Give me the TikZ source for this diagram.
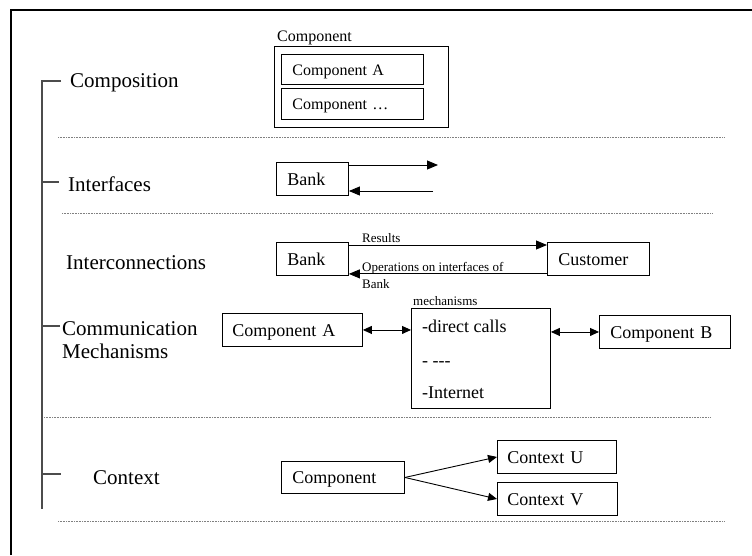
\documentclass[tikz,border=0pt]{standalone}
\usepackage{fontspec}
\setmainfont{Liberation Serif}
\usetikzlibrary{arrows.meta,calc}
\begin{document}
\begin{tikzpicture}[x=1pt,y=-1pt,
  box/.style={draw, line width=0.9pt, anchor=north west, align=left, inner ysep=0pt,
              text height=13pt, text depth=0pt, font=\fontsize{18}{21}\selectfont},
  heading/.style={anchor=base west, inner sep=0pt, font=\fontsize{21}{24}\selectfont},
  boxtext/.style={anchor=base west, inner sep=0pt, font=\fontsize{18}{21}\selectfont},
  small/.style={anchor=base west, inner sep=0pt, font=\fontsize{13}{15}\selectfont},
  bracket/.style={draw=black!70, line width=1.1pt},
  sep/.style={draw=black!50, line width=0.8pt, dash pattern=on 0.8pt off 0.8pt},
  arr/.style={line width=0.9pt, -{Triangle[length=11pt,width=9pt]}},
  darr/.style={line width=0.9pt, {Triangle[length=9pt,width=8pt]}-{Triangle[length=9pt,width=8pt]}},
  carr/.style={line width=0.9pt, -{Triangle[length=9pt,width=8pt]}},
]
\useasboundingbox (0,0) rectangle (752,555);

% page frame
\draw[line width=2.8pt] (11,555) -- (11,10) -- (752,10);

% bracket on the left with its ticks
\draw[bracket] (61,81) -- (42,81) -- (42,509);
\draw[bracket] (42,182) -- (59,182);
\draw[bracket] (42,326) -- (60,326);
\draw[bracket] (42,474) -- (61,474);

% section headings
\node[heading] (hComp) at (70,87) {Composition};
\node[heading] (hIntf) at (68,191) {Interfaces};
\node[heading] (hConn) at (66,269) {Interconnections};
\node[heading] (hMech1) at (62,335) {Communication};
\node[heading] (hMech2) at (62,358) {Mechanisms};
\node[heading] (hCtx) at (93,484) {Context};

% separators
\draw[sep] (58,137) -- (725,137);
\draw[sep] (62,213) -- (712,213);
\draw[sep] (44,417) -- (711,417);
\draw[sep] (58,521) -- (724,521);

% composition
\node[box, minimum width=174pt, minimum height=81pt, inner sep=0pt, text height=0pt] (compOuter) at (274,46) {};
\node[small, font=\fontsize{16}{18}\selectfont] (compLbl) at (277,41) {Component};
\node[box, font=\fontsize{16}{18}\selectfont, text height=12pt, text width=120pt, inner xsep=11pt, minimum height=30pt]
  (compA) at (281,54) {Component A};
\node[box, font=\fontsize{16}{18}\selectfont, text height=12pt, text width=120pt, inner xsep=11pt, minimum height=31pt]
  (compEtc) at (281,88) {Component …};

% interfaces
\node[box, text width=50pt, inner xsep=11pt, minimum height=33pt] (bankI) at (276,162) {Bank};
\coordinate (ifOut) at (438,165);
\coordinate (ifIn) at (433,191);
\draw[arr] (bankI.east |- ifOut) -- (ifOut);
\draw[arr] (ifIn) -- (bankI.east |- ifIn);

% interconnections
\node[box, text width=50pt, inner xsep=11pt, minimum height=33pt] (bankC) at (276,242) {Bank};
\node[box, text width=80pt, inner xsep=11pt, minimum height=33pt] (customer) at (547,242) {Customer};
\draw[arr] ($(bankC.north east)+(0,3)$) -- ($(customer.north west)+(0,3)$);
\draw[arr] ($(customer.south west)+(0,-2)$) -- ($(bankC.south east)+(0,-2)$);
\node[small] (resLbl) at (362,242) {Results};
\node[small] (opsLbl1) at (362,271) {Operations on interfaces of};
\node[small] (opsLbl2) at (362,288) {Bank};

% communication mechanisms
\node[box, text width=120pt, inner xsep=10pt, minimum height=33pt] (compA2) at (222,313) {Component A};
\node[box, minimum width=139pt, minimum height=100pt, inner sep=0pt, text height=0pt] (mech) at (411,308) {};
\node[small] (mechLbl) at (413,305) {mechanisms};
\node[boxtext] (mech1) at (422,332) {-direct calls};
\node[boxtext] (mech2) at (422,366) {- -{}-{}-};
\node[boxtext] (mech3) at (422,398) {-Internet};
\node[box, text width=109pt, inner xsep=11pt, minimum height=33pt] (compB) at (599,315) {Component B};
\draw[darr] (compA2.east) -- (compA2.east -| mech.west);
\draw[darr] (mech.east |- compB.west) -- (compB.west);

% context
\node[box, text width=101pt, inner xsep=11pt, minimum height=32pt] (compCtx) at (281,461) {Component};
\node[box, text width=99pt, inner xsep=10pt, minimum height=33pt] (ctxU) at (497,440) {Context U};
\node[box, text width=100pt, inner xsep=10pt, minimum height=33pt] (ctxV) at (497,482) {Context V};
\draw[carr] (compCtx.east) -- (ctxU.west);
\draw[carr] (compCtx.east) -- (ctxV.west);
\end{tikzpicture}
\end{document}
